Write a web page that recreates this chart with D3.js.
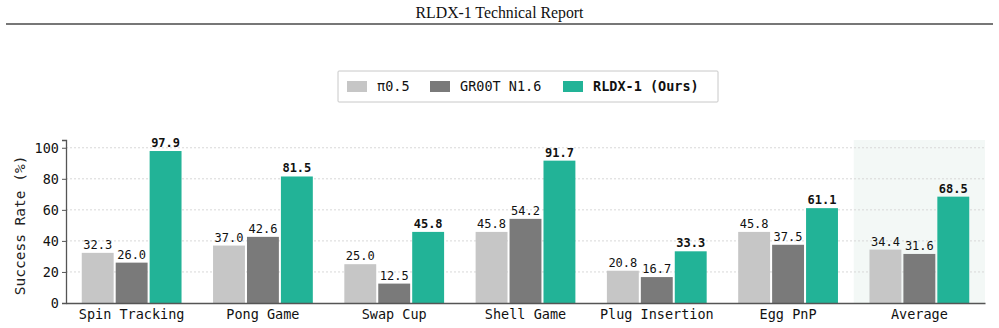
<!DOCTYPE html>
<html>
<head>
<meta charset="utf-8">
<script src="https://cdn.jsdelivr.net/npm/d3@7"></script>
<style>
  body { margin: 0; background: #fff; }
  svg { display: block; }
</style>
</head>
<body>
<div class="chart"></div>
<script>
// task categories and success rates (%)
const tasks = ['Spin Tracking', 'Pong Game', 'Swap Cup', 'Shell Game', 'Plug Insertion', 'Egg PnP', 'Average'];
const seriesNames = ['π0.5', 'GR00T N1.6', 'RLDX-1 (Ours)'];
const pi05 = [32.3, 37.0, 25.0, 45.8, 20.8, 45.8, 34.4];
const groot = [26.0, 42.6, 12.5, 54.2, 16.7, 37.5, 31.6];
const rldx = [97.9, 81.5, 45.8, 91.7, 33.3, 61.1, 68.5];
const yTicks = [0, 20, 40, 60, 80, 100];

const colors = ['#c6c6c6', '#7a7a7a', '#22b397'];
const mono = "'DejaVu Sans Mono', monospace";

const width = 999;
const height = 328;
const margin = {left: 66, right: 14, top: 140, bottom: 25};

const svg = d3.select('.chart')
    .append('svg')
    .attr('width', width)
    .attr('height', height);

// page header
svg.append('text')
    .attr('x', width / 2)
    .attr('y', 17.5)
    .attr('text-anchor', 'middle')
    .attr('font-family', "'Liberation Serif', serif")
    .attr('font-size', 15.8)
    .attr('fill', '#111')
    .text('RLDX-1 Technical Report');
svg.append('line')
    .attr('x1', 6).attr('x2', 993)
    .attr('y1', 24).attr('y2', 24)
    .attr('stroke', '#777')
    .attr('stroke-width', 2);

const x = d3.scaleBand()
    .domain(tasks)
    .range([margin.left, width - margin.right])
    .padding(0);

const inner = d3.scaleBand()
    .domain(seriesNames)
    .range([0.12 * x.bandwidth(), 0.88 * x.bandwidth()])
    .paddingInner(0.06);

const y = d3.scaleLinear()
    .domain([0, 105])
    .range([height - margin.bottom, margin.top]);

// shaded background for Average
svg.append('rect')
    .attr('x', x('Average'))
    .attr('y', y(105))
    .attr('width', x.bandwidth())
    .attr('height', y(0) - y(105))
    .attr('fill', '#f3f8f6');

// grid lines
svg.append('g')
    .selectAll('line')
    .data(yTicks.filter(d => d > 0))
    .enter()
    .append('line')
    .attr('x1', margin.left)
    .attr('x2', width - margin.right)
    .attr('y1', d => y(d))
    .attr('y2', d => y(d))
    .attr('stroke', '#d8d8d8')
    .attr('stroke-width', 1)
    .attr('stroke-dasharray', '2,2');

const series = [pi05, groot, rldx];

series.forEach((vals, s) => {
    const g = svg.append('g');
    g.selectAll('rect')
        .data(vals)
        .enter()
        .append('rect')
        .attr('x', (d, i) => x(tasks[i]) + inner(seriesNames[s]))
        .attr('y', d => y(d))
        .attr('width', inner.bandwidth())
        .attr('height', d => y(0) - y(d))
        .attr('fill', colors[s]);
    g.selectAll('text')
        .data(vals)
        .enter()
        .append('text')
        .attr('x', (d, i) => x(tasks[i]) + inner(seriesNames[s]) + inner.bandwidth() / 2)
        .attr('y', d => y(d) - 4)
        .attr('text-anchor', 'middle')
        .attr('font-family', mono)
        .attr('font-size', 12)
        .attr('font-weight', s === 2 ? 'bold' : 'normal')
        .attr('fill', '#111')
        .text(d => d.toFixed(1));
});

// axes
const yAxis = svg.append('g')
    .attr('transform', `translate(${margin.left},0)`)
    .call(d3.axisLeft(y).tickValues(yTicks).tickSize(4).tickPadding(3));
yAxis.select('.domain').attr('stroke', '#555').attr('stroke-width', 1.3);
yAxis.selectAll('.tick line').attr('stroke', '#555');
yAxis.selectAll('text')
    .attr('font-family', mono)
    .attr('font-size', 13.5)
    .attr('fill', '#111');

const xAxis = svg.append('g')
    .attr('transform', `translate(0,${y(0)})`)
    .call(d3.axisBottom(x).tickSize(0).tickPadding(6));
xAxis.select('.domain').attr('stroke', '#555').attr('stroke-width', 1.5);
xAxis.selectAll('text')
    .attr('font-family', mono)
    .attr('font-size', 13.5)
    .attr('fill', '#111');

svg.append('text')
    .attr('transform', `translate(25,${(y(0) + y(100)) / 2}) rotate(-90)`)
    .attr('text-anchor', 'middle')
    .attr('font-family', mono)
    .attr('font-size', 14.5)
    .attr('fill', '#222')
    .text('Success Rate (%)');

// legend
const legend = svg.append('g').attr('transform', 'translate(338,71)');
legend.append('rect')
    .attr('width', 380)
    .attr('height', 31)
    .attr('rx', 1)
    .attr('fill', '#fff')
    .attr('stroke', '#c8c8c8');
const legendX = [9, 92, 225];
seriesNames.forEach((name, i) => {
    legend.append('rect')
        .attr('x', legendX[i])
        .attr('y', 10)
        .attr('width', 20)
        .attr('height', 11)
        .attr('fill', colors[i]);
    legend.append('text')
        .attr('x', legendX[i] + 30)
        .attr('y', 20)
        .attr('font-family', mono)
        .attr('font-size', 13.5)
        .attr('font-weight', i === 2 ? 'bold' : 'normal')
        .attr('fill', '#111')
        .text(name);
});
</script>
</body>
</html>
